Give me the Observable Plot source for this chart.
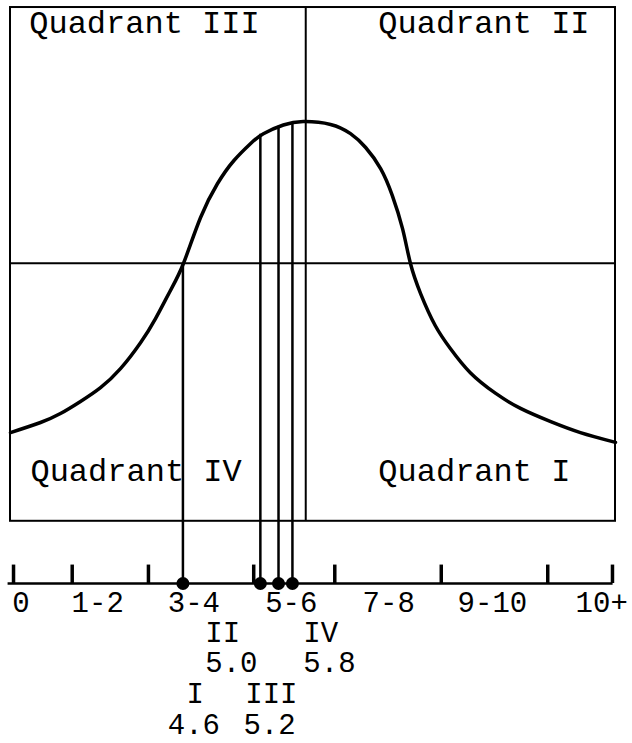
<!DOCTYPE html>
<html><head><meta charset="utf-8">
<script src="https://cdn.jsdelivr.net/npm/d3@7"></script>
<script src="https://cdn.jsdelivr.net/npm/@observablehq/plot@0.6"></script>
<style>
html,body{margin:0;padding:0;background:#fff;}
svg{display:block;}
</style></head><body><div id="chart"></div>
<script>
// ---- data (abstract units: x 0..100 across the box, y 0 = scale line, 100 = box top) ----
const categories = ["0", "1-2", "3-4", "5-6", "7-8", "9-10", "10+"];
const quadrantNames = ["Quadrant III", "Quadrant II", "Quadrant IV", "Quadrant I"];
const quadrantCodes = ["I", "II", "III", "IV"];
const quadrantMeans = ["4.6", "5.0", "5.2", "5.8"];

// curve
const curveX = [0, 4.96, 8.26, 11.57, 14.88, 18.18, 21.49, 23.97, 26.45, 28.6, 31.4, 34.2, 36.9, 39.7, 41.8, 45.1, 48.4, 52.9, 56.2, 58.7, 61.2, 63.1, 64.8, 66.1, 67.8, 70.2, 72.7, 76.0, 80.2, 84.3, 89.3, 94.2, 100];
const curveY = [26.2, 27.95, 29.5, 31.6, 34.0, 37.3, 41.8, 46.0, 50.9, 55.6, 63.5, 69.4, 73.4, 76.4, 78.1, 79.6, 80.2, 79.7, 78.1, 75.7, 72.0, 67.4, 61.6, 55.6, 50.3, 44.8, 40.8, 36.6, 33.0, 30.4, 28.1, 26.2, 24.5];

// drop lines from the curve to the scale (one per quadrant mean)
const dropX = [28.5, 41.3, 44.3, 46.6];
const dropTop = [55.6, 78.0, 79.4, 80.0];

// scale ticks and category label anchors
const tickX = [0.5, 10.2, 22.8, 40.2, 53.6, 71.2, 88.8, 99.5];
const categoryX = [0.3, 10.1, 26.0, 42.1, 58.2, 73.9, 93.4];

// layout constants
const boxTop = 100, boxBottom = 10.8, midLine = 55.6, divider = 48.8, tickTop = 3.2;
const quadrantLabelX = [3.1, 60.8, 3.3, 60.8];
const quadrantLabelY = [95.5, 95.5, 17.8, 17.8];
const codeX = [29.1, 32.2, 38.8, 48.4];
const codeY = [-20.8, -10.1, -20.8, -10.1];
const meanX = [26.0, 32.2, 38.5, 48.4];
const meanY = [-26.1, -15.45, -26.1, -15.45];

const curve = curveX.map((x, i) => ({x, y: curveY[i]}));
const drops = dropX.map((x, i) => ({x, top: dropTop[i]}));
const cats = categories.map((c, i) => ({c, x: categoryX[i]}));
const qLabels = quadrantNames.map((t, i) => ({t, x: quadrantLabelX[i], y: quadrantLabelY[i]}));
const codes = quadrantCodes.map((t, i) => ({t, x: codeX[i], y: codeY[i]}));
const means = quadrantMeans.map((t, i) => ({t, x: meanX[i], y: meanY[i]}));

const ink = "#000";
const font = "'Liberation Mono', 'DejaVu Sans Mono', monospace";

const chart = Plot.plot({
  width: 632,
  height: 743,
  marginLeft: 10,
  marginRight: 17,
  marginTop: 0,
  marginBottom: 0,
  style: {fontFamily: font, background: "#fff", color: ink},
  x: {domain: [0, 100], axis: null},
  y: {domain: [-27.78, 101.22], axis: null},
  marks: [
    // box
    Plot.rect([{}], {x1: 0, x2: 100, y1: boxBottom, y2: boxTop, fill: "none", stroke: ink, strokeWidth: 2}),
    Plot.ruleY([midLine], {x1: 0, x2: 100, stroke: ink, strokeWidth: 2}),
    Plot.ruleX([divider], {y1: boxBottom, y2: boxTop, stroke: ink, strokeWidth: 2}),
    // curve
    Plot.line(curve, {x: "x", y: "y", curve: "natural", stroke: ink, strokeWidth: 3.5}),
    // drop lines
    Plot.ruleX(drops, {x: "x", y1: 0, y2: "top", stroke: ink, strokeWidth: 2.5}),
    // scale line and ticks
    Plot.ruleY([0], {x1: -0.4, x2: 99.6, stroke: ink, strokeWidth: 2.5}),
    Plot.ruleX(tickX, {y1: 0, y2: tickTop, stroke: ink, strokeWidth: 3.5}),
    Plot.dot(drops, {x: "x", y: 0, r: 6.5, fill: ink, stroke: null}),
    // texts
    Plot.text(qLabels, {x: "x", y: "y", text: "t", textAnchor: "start", lineAnchor: "bottom", fontSize: 32, fill: ink}),
    Plot.text(cats, {x: "x", y: -5.0, text: "c", textAnchor: "start", lineAnchor: "bottom", fontSize: 29, fill: ink}),
    Plot.text(codes, {x: "x", y: "y", text: "t", textAnchor: "start", lineAnchor: "bottom", fontSize: 29, fill: ink}),
    Plot.text(means, {x: "x", y: "y", text: "t", textAnchor: "start", lineAnchor: "bottom", fontSize: 29, fill: ink})
  ]
});
document.getElementById("chart").appendChild(chart);
</script>
</body></html>
